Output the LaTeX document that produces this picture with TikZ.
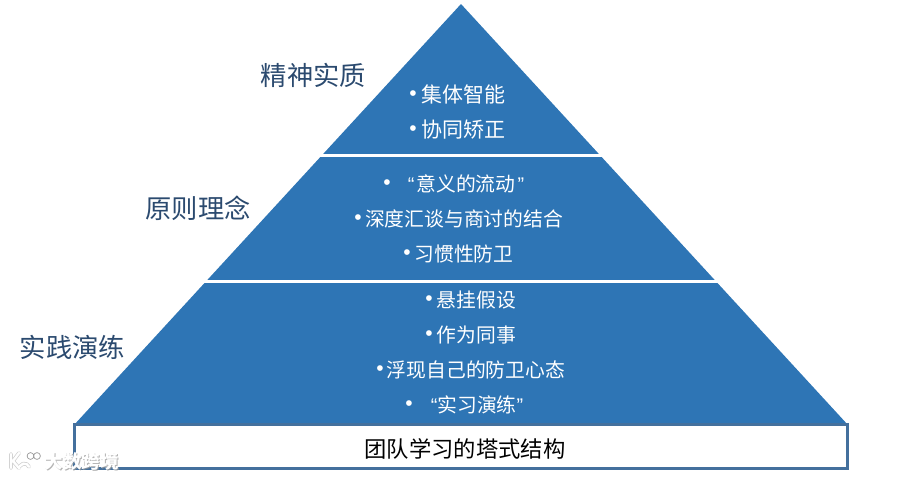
\documentclass[tikz,border=0pt]{standalone}
\usepackage{fontspec}
\setmainfont{Noto Sans CJK SC}
\newfontfamily\latinfont{Liberation Sans}
\definecolor{pyr}{HTML}{2E75B5}
\definecolor{frameblue}{HTML}{44709D}
\definecolor{labelblue}{HTML}{2B4A6F}
\newcommand{\bul}{{\latinfont •}}
\newcommand{\qopen}{{\latinfont “}}
\newcommand{\qclose}{{\latinfont ”}}
\tikzset{
  x=1pt,y=-1pt,
  band/.style={fill=pyr,draw=none},
  sep/.style={draw=white,line width=3pt},
  side/.style={text=labelblue,font=\fontsize{26.3}{26}\selectfont,inner sep=0pt,anchor=center},
  big/.style={text=white,font=\fontsize{21}{21}\selectfont,inner sep=0pt,anchor=center},
  item/.style={text=white,font=\fontsize{19.8}{20}\selectfont,inner sep=0pt,anchor=center},
  bullet/.style={text=white,font=\fontsize{21}{21}\selectfont,inner sep=0pt,anchor=center},
  wm/.style={font=\fontsize{18.5}{18}\selectfont\bfseries,inner sep=0pt,anchor=west},
  logoshade/.style={draw=black!32,line width=3.8pt,line cap=round,line join=round,opacity=.6},
  logolight/.style={draw=white,line width=2.4pt,line cap=round,line join=round}
}
\begin{document}
\begin{tikzpicture}
\useasboundingbox (0,0) rectangle (906,479);
\fill[band] (461,4) -- (848,425) -- (74,425) -- cycle;
\coordinate (l1) at (318,155.5);
\coordinate (r1) at (604,155.5);
\coordinate (l2) at (202,281.5);
\coordinate (r2) at (720,281.5);
\draw[sep] (l1) -- (r1);
\draw[sep] (l2) -- (r2);
\node[draw=frameblue,line width=3pt,fill=white,minimum width=773pt,minimum height=44pt,inner sep=0pt,
  text=black] (base) at (461,446.5) {};
\node[text=black,font=\fontsize{22.3}{22}\selectfont,inner sep=0pt] (basetext) at (465,449) {团队学习的塔式结构};
\node[side] (s1) at (313.5,75) {精神实质};
\node[side] (s2) at (198,208) {原则理念};
\node[side] (s3) at (72.5,347) {实践演练};
\node[big] (a1) at (463,94.5) {集体智能};
\node[big] (a2) at (463,129.5) {协同矫正};
\node[bullet] (b1) at (413,96) {\bul};
\node[bullet] (b2) at (413,131) {\bul};
\node[item] (c1) at (466,183.5) {\qopen\kern2pt 意义的流动\kern2pt\qclose};
\node[item] (c2) at (464,218.5) {深度汇谈与商讨的结合};
\node[item] (c3) at (464,253.5) {习惯性防卫};
\node[bullet] (d1) at (387,185) {\bul};
\node[bullet] (d2) at (358,220) {\bul};
\node[bullet] (d3) at (407,255) {\bul};
\node[item] (e1) at (476.5,300) {悬挂假设};
\node[item] (e2) at (476.5,335) {作为同事};
\node[item] (e3) at (476,369.5) {浮现自己的防卫心态};
\node[item] (e4) at (477,404.5) {\qopen 实习演练\qclose};
\node[bullet] (f1) at (429,301) {\bul};
\node[bullet] (f2) at (429,336) {\bul};
\node[bullet] (f3) at (380,371) {\bul};
\node[bullet] (f4) at (409,406) {\bul};
% watermark
\node[wm,text=black!40,opacity=.75] (w2) at (45.5,462.5) {大数跨境};
\node[wm,text=white] (w) at (44.5,461.5) {大数跨境};
\draw[logoshade] (11,454) -- (11,468) (19,453) -- (13,461) -- (19,468);
\draw[logoshade] (20,466) arc (210:340:5);
\draw[logolight] (11,454) -- (11,468) (19,453) -- (13,461) -- (19,468);
\draw[logolight] (20,466) arc (210:340:5);
\draw[black!40,line width=.7pt,fill=white] (30.5,456) circle (3.4) (37,456) circle (3.4);
\end{tikzpicture}
\end{document}
